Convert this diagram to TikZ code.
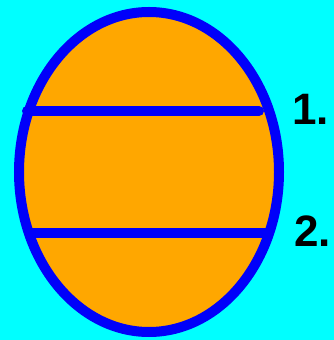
\documentclass[tikz,border=0pt]{standalone}
\usepackage{fontspec}
\setmainfont{Liberation Sans}
\usepackage{tikz}
\usetikzlibrary{positioning}

\definecolor{bgcyan}{RGB}{0,255,255}
\definecolor{eggorange}{RGB}{255,167,0}
\definecolor{rimblue}{RGB}{0,0,250}

\begin{document}
\begin{tikzpicture}[
		x=1pt, y=1pt,
		rim/.style={draw=rimblue, line width=10pt},
		band/.style={draw=rimblue, line width=10pt, line cap=round},
		numlabel/.style={
			anchor=base west,
			inner sep=0pt,
			font=\fontsize{44}{44}\selectfont\bfseries,
			text=black
		}
		]
		
		% background and frame
		\fill[bgcyan] (0,0) rectangle (334,340);
		\useasboundingbox (0,0) rectangle (334,340);
		
		% egg body
		\fill[eggorange] (149,168) ellipse [x radius=130, y radius=160];
		
		\coordinate (b1l) at (27,229);
		\coordinate (b1r) at (259,229);
		\coordinate (b2l) at (28,107);
		\coordinate (b2r) at (270,107);
		
		\draw[band] (b1l) -- (b1r);
		\draw[rim, line cap=butt] (b2l) -- (b2r);
		
		\draw[rim] (149,168) ellipse [x radius=130, y radius=160];
		
		\node[numlabel] (one) at (292,215) {1.};
		\node[numlabel] (two) at (294,93) {2.};
		
	\end{tikzpicture}
\end{document}
